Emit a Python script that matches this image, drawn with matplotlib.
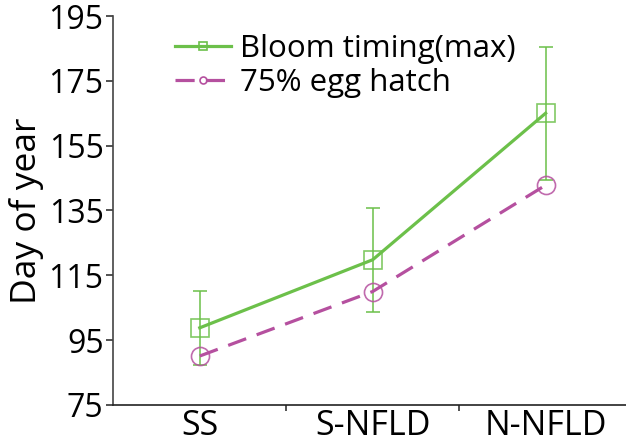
import matplotlib.pyplot as plt

plt.rcParams['font.family'] = ['Open Sans', 'DejaVu Sans']

regions = ["SS", "S-NFLD", "N-NFLD"]
bloom = [98.8, 119.8, 165.0]
bloom_err = [11.5, 16.0, 20.5]
hatch = [90.1, 110.0, 142.8]
yticks = [75, 95, 115, 135, 155, 175, 195]

GREEN = "#6cc04a"
MAGENTA = "#b5509f"

fig = plt.figure(figsize=(6.26, 4.45), dpi=100)
ax = fig.add_axes([0.181, 0.09, 0.819, 0.874])

x = list(range(1, len(regions) + 1))

ax.errorbar(x, bloom, yerr=bloom_err, fmt="none", ecolor=GREEN, elinewidth=1.3,
            capsize=5, capthick=1.3, alpha=0.85, zorder=2)
ax.plot(x, bloom, color=GREEN, lw=2.3, zorder=3)
ax.plot(x, bloom, ls="none", marker="s", ms=13, mfc="none", mec=GREEN, mew=1.2,
        alpha=0.85, zorder=4)
ax.plot(x, hatch, color=MAGENTA, lw=2.3, dashes=(6, 3.5), zorder=3)
ax.plot(x, hatch, ls="none", marker="o", ms=13, mfc="none", mec=MAGENTA, mew=1.2,
        alpha=0.85, zorder=4)

# legend proxies with small markers
h1, = ax.plot([], [], color=GREEN, lw=2.3, marker="s", ms=6, mfc="none", mec=GREEN, mew=1.2)
h2, = ax.plot([], [], color=MAGENTA, lw=2.3, marker="o", ms=5, mfc="none", mec=MAGENTA,
              mew=1.2, dashes=(6, 3.5))
ax.legend([h1, h2], ["Bloom timing(max)", "75% egg hatch"], loc="upper left",
          bbox_to_anchor=(0.095, 0.985), frameon=False, fontsize=22.5, handlelength=1.8,
          handletextpad=0.3, labelspacing=0.12, borderaxespad=0)

ax.set_ylim(75, 195)
ax.set_yticks(yticks)
ax.set_xlim(0.5, 3.465)
ax.set_xticks(x)
ax.set_xticklabels(regions)
ax.set_xticks([1.5, 2.5], minor=True)
ax.tick_params(axis="x", which="major", length=0, labelsize=24.5, pad=3)
ax.tick_params(axis="x", which="minor", length=4, width=1.2, color="#333333")
ax.tick_params(axis="y", labelsize=23, length=5, width=1.2, color="#333333", pad=2)
ax.set_ylabel("Day of year", fontsize=25.5, labelpad=3)

for s in ["top", "right"]:
    ax.spines[s].set_visible(False)
ax.spines["left"].set_linewidth(1.2)
ax.spines["left"].set_color("#444444")
ax.spines["bottom"].set_linewidth(1.2)
ax.spines["bottom"].set_color("#222222")

plt.savefig("out.png", dpi=100)
